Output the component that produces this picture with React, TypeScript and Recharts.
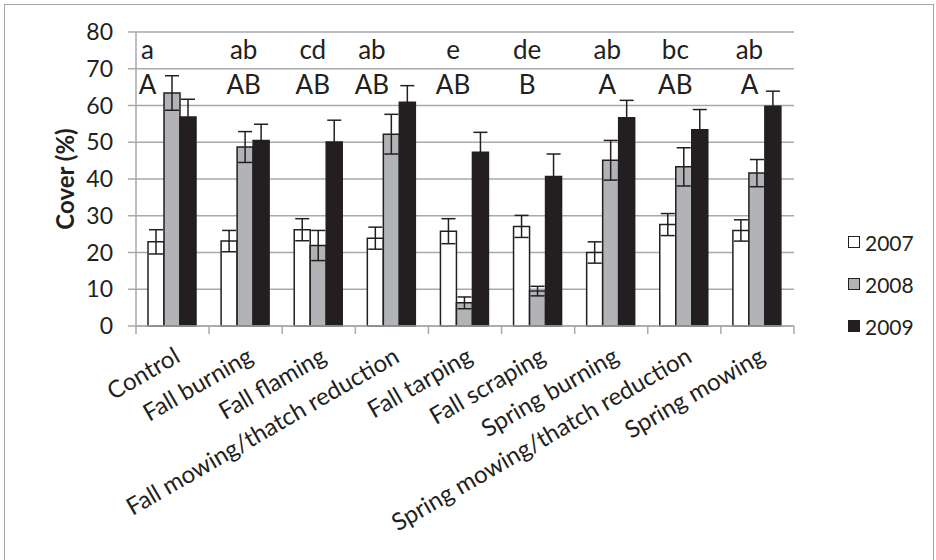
import React from "react";
import { Bar, BarChart, CartesianGrid, ErrorBar, Legend, ReferenceDot, XAxis, YAxis } from "recharts";

const treatments = [
  "Control",
  "Fall burning",
  "Fall flaming",
  "Fall mowing/thatch reduction",
  "Fall tarping",
  "Fall scraping",
  "Spring burning",
  "Spring mowing/thatch reduction",
  "Spring mowing",
];
const cover2007 = [22.9, 23.1, 26.2, 23.9, 25.8, 27.1, 20.0, 27.6, 26.0];
const cover2008 = [63.4, 48.7, 21.9, 52.2, 6.3, 9.5, 45.1, 43.3, 41.6];
const cover2009 = [56.9, 50.5, 50.1, 60.9, 47.3, 40.7, 56.7, 53.4, 59.8];
const err2007 = [3.3, 2.9, 3.0, 3.0, 3.4, 3.0, 2.9, 3.0, 2.9];
const err2008 = [4.7, 4.2, 4.1, 5.4, 1.6, 1.3, 5.4, 5.2, 3.7];
const err2009 = [4.8, 4.4, 5.9, 4.5, 5.4, 6.1, 4.7, 5.5, 4.1];
const lowerLetters = ["a", "ab", "cd", "ab", "e", "de", "ab", "bc", "ab"];
const upperLetters = ["A", "AB", "AB", "AB", "AB", "B", "A", "AB", "A"];
const yTicks = [0, 10, 20, 30, 40, 50, 60, 70, 80];

// text boxes in the original sit a bit left of the category centre
const letterNudge = [-25, -2, -6, -20, -12, -11, -4, -9, -8];
const lowerRow = 75.1;
const upperRow = 65.6;

const FONT = "Lato, 'DejaVu Sans', sans-serif";
const INK = "#231f20";
const GRID = "#a7a9ac";

const series = [
  { key: "y2007", err: "e2007", name: "2007", fill: "#ffffff" },
  { key: "y2008", err: "e2008", name: "2008", fill: "#b1b3b6" },
  { key: "y2009", err: "e2009", name: "2009", fill: INK },
];

const rows = treatments.map((t, i) => ({
  treatment: t,
  y2007: cover2007[i],
  y2008: cover2008[i],
  y2009: cover2009[i],
  e2007: err2007[i],
  e2008: err2008[i],
  e2009: err2009[i],
}));

function TreatmentTick(props: any) {
  const { x, y, payload, index } = props;
  const band = (props.width || 658) / treatments.length;
  const last = index === treatments.length - 1;
  return (
    <g>
      <line x1={x - band / 2} x2={x - band / 2} y1={y} y2={y + 8} stroke={GRID} strokeWidth={1.5} />
      {last && <line x1={x + band / 2} x2={x + band / 2} y1={y} y2={y + 8} stroke={GRID} strokeWidth={1.5} />}
      <text
        transform={`translate(${x + 9},${y + 35}) rotate(-30)`}
        textAnchor="end"
        fontFamily={FONT}
        fontSize={24}
        fill={INK}
      >
        {payload.value}
      </text>
    </g>
  );
}

function YearLegend() {
  return (
    <div style={{ fontFamily: FONT, fontSize: 21, color: INK }}>
      {series.map((s) => (
        <div key={s.name} style={{ display: "flex", alignItems: "center", height: 42 }}>
          <span
            style={{
              width: 10,
              height: 10,
              background: s.fill,
              border: `1.5px solid ${INK}`,
              marginRight: 5,
            }}
          />
          {s.name}
        </div>
      ))}
    </div>
  );
}

function letterLabel(text: string, nudge: number) {
  return (p: any) => {
    const vb = p.viewBox || {};
    const cx = (vb.x ?? 0) + (vb.width ?? 0) / 2 + nudge;
    const cy = (vb.y ?? 0) + (vb.height ?? 0) / 2;
    return (
      <text x={cx} y={cy} dy="0.36em" textAnchor="middle" fontFamily={FONT} fontSize={26} fill={INK}>
        {text}
      </text>
    );
  };
}

export default function App() {
  return (
    <div style={{ position: "absolute", left: 0, top: 0, width: 936, height: 560, overflow: "hidden", background: "#fff" }}>
      <div
        style={{
          position: "absolute",
          left: 4,
          top: 4,
          width: 930,
          height: 560,
          border: "1.5px solid #a6a6a6",
          boxSizing: "border-box",
        }}
      />
      <div style={{ position: "absolute", left: 0, top: 0 }}>
        <BarChart
          width={936}
          height={560}
          data={rows}
          margin={{ top: 32, right: 142, bottom: 0, left: 0 }}
          barCategoryGap={12}
          barGap={0}
        >
          <CartesianGrid vertical={false} stroke={GRID} strokeWidth={1.5} />
          <XAxis
            dataKey="treatment"
            height={234}
            interval={0}
            tickLine={false}
            tickSize={0}
            tickMargin={0}
            axisLine={{ stroke: GRID, strokeWidth: 1.5 }}
            tick={(p: any) => <TreatmentTick {...p} />}
          />
          <YAxis
            width={136}
            domain={[0, 80]}
            ticks={yTicks}
            interval={0}
            tickSize={8}
            tickMargin={15}
            axisLine={{ stroke: GRID, strokeWidth: 1.5 }}
            tickLine={{ stroke: GRID, strokeWidth: 1.5 }}
            tick={{ fontFamily: FONT, fontSize: 23, fill: INK }}
            label={{
              content: (p: any) => {
                const vb = p.viewBox || {};
                const cy = (vb.y ?? 0) + (vb.height ?? 0) / 2;
                return (
                  <text
                    transform={`translate(${(vb.x ?? 0) + 65},${cy}) rotate(-90)`}
                    textAnchor="middle"
                    dy="0.36em"
                    fontFamily={FONT}
                    fontWeight="bold"
                    fontSize={24}
                    fill={INK}
                  >
                    Cover (%)
                  </text>
                );
              },
            }}
          />
          {series.map((s) => (
            <Bar key={s.key} dataKey={s.key} name={s.name} fill={s.fill} stroke={INK} strokeWidth={1.5} isAnimationActive={false}>
              <ErrorBar dataKey={s.err} width={7} stroke={INK} strokeWidth={1.5} />
            </Bar>
          ))}
          {treatments.map((t, i) => (
            <ReferenceDot
              key={`lo-${t}`}
              x={t}
              y={lowerRow}
              r={1}
              fill="none"
              stroke="none"
              ifOverflow="visible"
              label={{ content: letterLabel(lowerLetters[i], letterNudge[i]) }}
            />
          ))}
          {treatments.map((t, i) => (
            <ReferenceDot
              key={`up-${t}`}
              x={t}
              y={upperRow}
              r={1}
              fill="none"
              stroke="none"
              ifOverflow="visible"
              label={{ content: letterLabel(upperLetters[i], letterNudge[i]) }}
            />
          ))}
          <Legend
            layout="horizontal"
            align="center"
            verticalAlign="middle"
            wrapperStyle={{ left: 848, top: 221, width: "auto" }}
            content={() => <YearLegend />}
          />
        </BarChart>
      </div>
    </div>
  );
}
